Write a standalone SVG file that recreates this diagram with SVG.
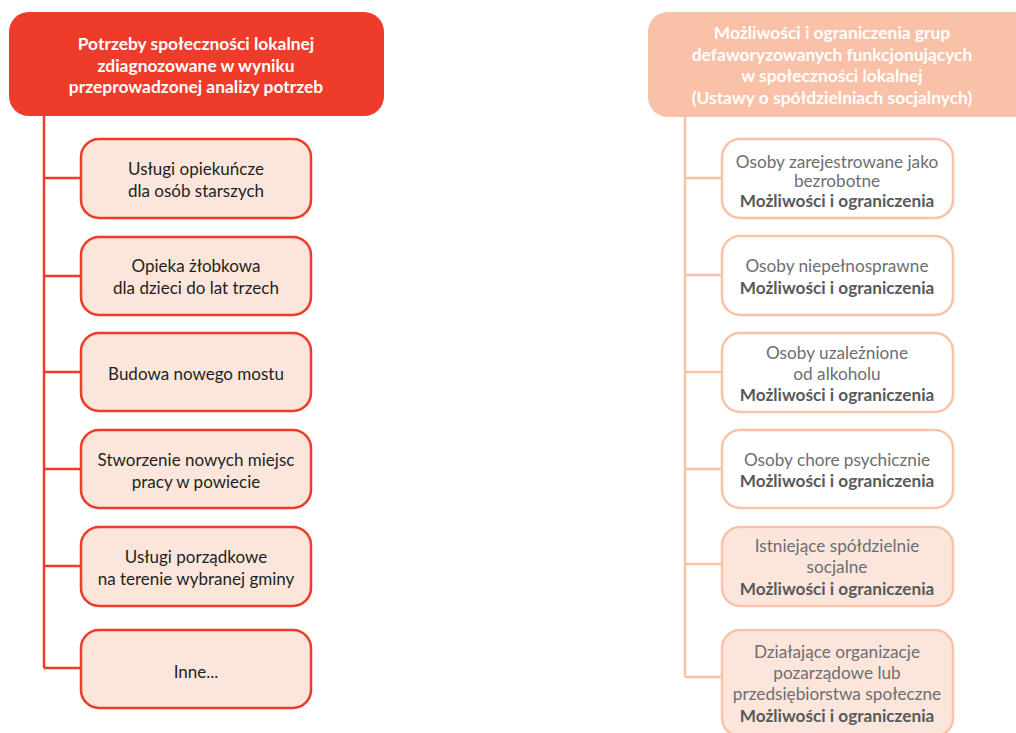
<svg xmlns="http://www.w3.org/2000/svg" width="1016" height="733" viewBox="0 0 1016 733">
  <style>
    .t { font-family: Lato, "Open Sans", sans-serif; text-anchor: middle; }
    .hdr { font-size: 17.4px; font-weight: bold; fill: #ffffff; }
    .lbl { font-size: 17px; fill: #231f20; }
    .rlbl { font-size: 17.2px; fill: #6d6e71; }
    .rb { font-weight: bold; fill: #58595b; }
    .lbox { fill: #fce6dc; stroke: #ee3b2a; stroke-width: 2.5; }
    .rbox { fill: #ffffff; stroke: #f9c3a9; stroke-width: 2.5; }
    .rbox2 { fill: #fce6dc; stroke: #f9c3a9; stroke-width: 2.5; }
    .lline { fill: none; stroke: #ee3b2a; stroke-width: 2.5; }
    .rline { fill: none; stroke: #f9c3a9; stroke-width: 2.5; }
  </style>

  <!-- connectors -->
  <g id="connectors">
    <path class="lline" d="M44 116 V668 M44 178 H81 M44 276 H81 M44 372 H81 M44 469 H81 M44 566 H81 M44 668 H81"/>
    <path class="rline" d="M685 116 V677 M685 178 H722 M685 275 H722 M685 372 H722 M685 469 H722 M685 564 H722 M685 677 H722"/>
  </g>

  <!-- left column -->
  <g id="needs-header">
    <rect x="9" y="12" width="375" height="104" rx="20" fill="#ee3b2a"/>
    <text class="t hdr" x="196" y="50">Potrzeby społeczności lokalnej</text>
    <text class="t hdr" x="196" y="72">zdiagnozowane w wyniku</text>
    <text class="t hdr" x="196" y="93">przeprowadzonej analizy potrzeb</text>
  </g>
  <g id="need-1">
    <rect class="lbox" x="81" y="139" width="230" height="79" rx="18"/>
    <text class="t lbl" x="196" y="175">Usługi opiekuńcze</text>
    <text class="t lbl" x="196" y="197">dla osób starszych</text>
  </g>
  <g id="need-2">
    <rect class="lbox" x="81" y="237" width="230" height="78" rx="18"/>
    <text class="t lbl" x="196" y="272">Opieka żłobkowa</text>
    <text class="t lbl" x="196" y="294">dla dzieci do lat trzech</text>
  </g>
  <g id="need-3">
    <rect class="lbox" x="81" y="333" width="230" height="78" rx="18"/>
    <text class="t lbl" x="196" y="380">Budowa nowego mostu</text>
  </g>
  <g id="need-4">
    <rect class="lbox" x="81" y="430" width="230" height="78" rx="18"/>
    <text class="t lbl" x="196" y="466">Stworzenie nowych miejsc</text>
    <text class="t lbl" x="196" y="488">pracy w powiecie</text>
  </g>
  <g id="need-5">
    <rect class="lbox" x="81" y="527" width="230" height="79" rx="18"/>
    <text class="t lbl" x="196" y="563">Usługi porządkowe</text>
    <text class="t lbl" x="196" y="585">na terenie wybranej gminy</text>
  </g>
  <g id="need-6">
    <rect class="lbox" x="81" y="630" width="230" height="78" rx="18"/>
    <text class="t lbl" x="196" y="678">Inne...</text>
  </g>

  <!-- right column -->
  <g id="groups-header">
    <rect x="648" y="12" width="390" height="105" rx="20" fill="#f9c1a7"/>
    <text class="t hdr" x="832" y="39">Możliwości i ograniczenia grup</text>
    <text class="t hdr" x="832" y="61">defaworyzowanych funkcjonujących</text>
    <text class="t hdr" x="832" y="82">w społeczności lokalnej</text>
    <text class="t hdr" x="832" y="104">(Ustawy o spółdzielniach socjalnych)</text>
  </g>
  <g id="group-1">
    <rect class="rbox" x="722" y="139" width="231" height="79" rx="18"/>
    <text class="t rlbl" x="837" y="168">Osoby zarejestrowane jako</text>
    <text class="t rlbl" x="837" y="187">bezrobotne</text>
    <text class="t rlbl rb" x="837" y="207">Możliwości i ograniczenia</text>
  </g>
  <g id="group-2">
    <rect class="rbox" x="722" y="236" width="231" height="79" rx="18"/>
    <text class="t rlbl" x="837" y="272">Osoby niepełnosprawne</text>
    <text class="t rlbl rb" x="837" y="294">Możliwości i ograniczenia</text>
  </g>
  <g id="group-3">
    <rect class="rbox" x="722" y="333" width="231" height="79" rx="18"/>
    <text class="t rlbl" x="837" y="359">Osoby uzależnione</text>
    <text class="t rlbl" x="837" y="380">od alkoholu</text>
    <text class="t rlbl rb" x="837" y="401">Możliwości i ograniczenia</text>
  </g>
  <g id="group-4">
    <rect class="rbox" x="722" y="430" width="231" height="78" rx="18"/>
    <text class="t rlbl" x="837" y="466">Osoby chore psychicznie</text>
    <text class="t rlbl rb" x="837" y="487">Możliwości i ograniczenia</text>
  </g>
  <g id="group-5">
    <rect class="rbox2" x="722" y="527" width="231" height="79" rx="18"/>
    <text class="t rlbl" x="837" y="552">Istniejące spółdzielnie</text>
    <text class="t rlbl" x="837" y="573">socjalne</text>
    <text class="t rlbl rb" x="837" y="595">Możliwości i ograniczenia</text>
  </g>
  <g id="group-6">
    <rect class="rbox2" x="722" y="630" width="231" height="106" rx="18"/>
    <text class="t rlbl" x="837" y="658">Działające organizacje</text>
    <text class="t rlbl" x="837" y="679">pozarządowe lub</text>
    <text class="t rlbl" x="837" y="700">przedsiębiorstwa społeczne</text>
    <text class="t rlbl rb" x="837" y="722">Możliwości i ograniczenia</text>
  </g>
</svg>
